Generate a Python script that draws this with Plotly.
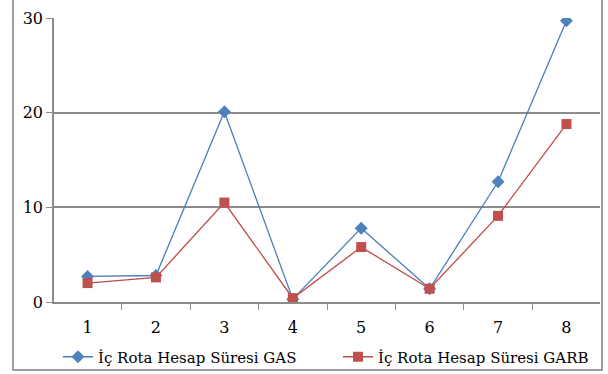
import plotly.graph_objects as go

categories = ["1", "2", "3", "4", "5", "6", "7", "8"]
gas_values = [2.7, 2.8, 20.1, 0.3, 7.8, 1.4, 12.7, 29.7]
garb_values = [2.0, 2.6, 10.5, 0.4, 5.8, 1.4, 9.1, 18.8]
y_ticks = [0, 10, 20, 30]

font_family = "DejaVu Serif"
grid_color = "#8c8c8c"

fig = go.Figure()
fig.add_trace(go.Scatter(
    x=categories, y=gas_values, mode="lines+markers",
    name="İç Rota Hesap Süresi GAS", legend="legend",
    line=dict(color="#4A7EBB", width=1.3),
    marker=dict(symbol="diamond", size=10, color="#4F81BD"),
))
fig.add_trace(go.Scatter(
    x=categories, y=garb_values, mode="lines+markers",
    name="İç Rota Hesap Süresi GARB", legend="legend2",
    line=dict(color="#BE4B48", width=1.3),
    marker=dict(symbol="square", size=10, color="#C0504D"),
))

W, H = 608, 374
L, R, T, B = 54, 8, 18, 72

# outer chart frame, sized in pixels from the plot area's bottom-left corner
fig.add_shape(type="rect", xref="paper", yref="paper",
              xsizemode="pixel", ysizemode="pixel", xanchor=0, yanchor=0,
              x0=13 - L, x1=602 - L, y0=(H - B) - 370, y1=(H - B) + 3,
              line=dict(color="#7f7f7f", width=1.5), layer="above")

legend_common = dict(orientation="h", xref="container", yref="container",
                     xanchor="left", y=(H - 357) / H, yanchor="middle",
                     font=dict(family=font_family, size=15),
                     bgcolor="rgba(0,0,0,0)")

fig.update_layout(
    width=W, height=H,
    margin=dict(l=L, r=R, t=T, b=B, autoexpand=False),
    paper_bgcolor="white", plot_bgcolor="white",
    font=dict(family=font_family, size=15, color="black"),
    showlegend=True,
    legend=dict(x=58 / W, **legend_common),
    legend2=dict(x=338 / W, **legend_common),
)
fig.update_xaxes(
    type="category", tickson="boundaries", ticks="outside", ticklen=6,
    tickcolor=grid_color, showline=True, linecolor=grid_color, linewidth=1.5,
    showgrid=False, tickfont=dict(family=font_family, size=16),
    ticklabelstandoff=10,
)
fig.update_yaxes(
    range=[0, 30], tickvals=y_ticks, ticks="outside", ticklen=6,
    tickcolor=grid_color, showline=True, linecolor=grid_color, linewidth=1.5,
    showgrid=True, gridcolor=grid_color, gridwidth=1.5, zeroline=False,
    tickfont=dict(family=font_family, size=16),
)

fig.write_html("out.html")
